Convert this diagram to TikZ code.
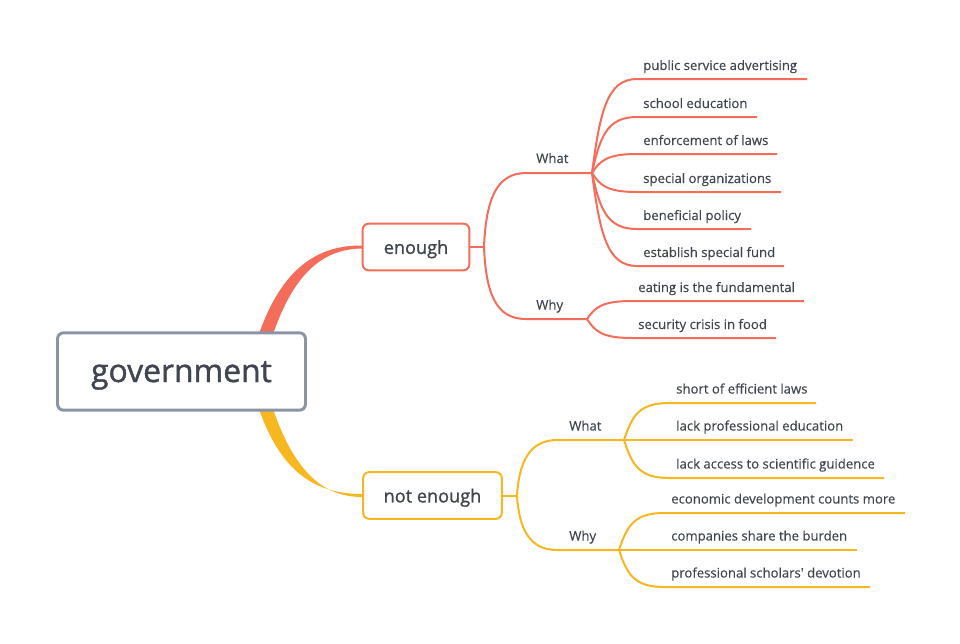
\documentclass[tikz,border=0pt]{standalone}
\usepackage{fontspec}
\setmainfont{Open Sans}
\newfontfamily\boxfont{Open Sans}[FakeBold=1.2]
\newfontfamily\kidfont{Open Sans}[FakeBold=0.35]
\definecolor{redc}{HTML}{F46D5A}
\definecolor{yelc}{HTML}{F6B720}
\definecolor{grayb}{HTML}{8A94A4}
\definecolor{txt}{HTML}{40464F}
\begin{document}
\begin{tikzpicture}[x=0.75pt,y=-0.75pt,
  kid/.style={anchor=base west,inner sep=0pt,text=txt,font=\kidfont\fontsize{9.85}{11}\selectfont},
  redline/.style={draw=redc,line width=1.5pt},
  yelline/.style={draw=yelc,line width=1.5pt},
  topbox/.style={draw=grayb,line width=2.2pt,rounded corners=4.5pt,fill=white,text=txt,text depth=0pt,
     minimum width=186pt,minimum height=58pt,font=\boxfont\fontsize{23.9}{28}\selectfont},
  subbox/.style={line width=1.5pt,rounded corners=4.5pt,fill=white,text=txt,text depth=0pt,
     minimum height=35pt,font=\boxfont\fontsize{13.6}{15}\selectfont}]
\useasboundingbox (0,0) rectangle (960,643);

% tapered main connectors
\fill[redc] (259,334) .. controls (282,268) and (318,245) .. (362,245.5)
   -- (362,248.5) .. controls (322,249) and (294,274) .. (273,334) -- cycle;
\fill[yelc] (259,409) .. controls (282,475) and (318,494) .. (362,494)
   -- (362,497) .. controls (322,497) and (294,470) .. (273,409) -- cycle;

\node[topbox] (gov) at (181.5,371.5) {government};
\node[subbox,draw=redc,minimum width=80pt] (en) at (416,247) {enough};
\node[subbox,draw=yelc,minimum width=104pt] (ne) at (432.5,495.5) {not enough};

% ---------- enough branch ----------
\coordinate (ej) at (484,247);
\draw[redline] (en.east) -- (ej);
\node[kid] (ewhat) at (536,163) {What};
\node[kid] (ewhy) at (536,309.5) {Why};
\coordinate (ewj) at (592,173);
\coordinate (eyj) at (587,319);
\draw[redline] (ej) .. controls (486,200) and (496,173) .. (526,173) -- (ewj);
\draw[redline] (ej) .. controls (486,294) and (496,319) .. (526,319) -- (eyj);

\foreach \y/\e/\t [count=\i] in {79/807/public service advertising,117/757/school education,154/777/enforcement of laws,192/781/special organizations,229/751/beneficial policy,266/784/establish special fund}{
  \node[kid] (ew\i) at (643,\y-9) {\t};
  \coordinate (ewe\i) at (\e,\y);
  \draw[redline] (ewj) .. controls (600,\y+0.35*173-0.35*\y) and (607,\y) .. (637,\y) -- (ewe\i);
}
\foreach \y/\e/\t [count=\i] in {301/804/eating is the fundamental,338/776/security crisis in food}{
  \node[kid] (ey\i) at (638,\y-9) {\t};
  \coordinate (eye\i) at (\e,\y);
  \draw[redline] (eyj) .. controls (595,\y+0.35*319-0.35*\y) and (602,\y) .. (632,\y) -- (eye\i);
}

% ---------- not enough branch ----------
\coordinate (nj) at (517,495.5);
\draw[yelline] (ne.east) -- (nj);
\node[kid] (nwhat) at (569,430.5) {What};
\node[kid] (nwhy) at (569,540.5) {Why};
\coordinate (nwj) at (624,440);
\coordinate (nyj) at (619,550);
\draw[yelline] (nj) .. controls (519,463) and (529,440) .. (557,440) -- (nwj);
\draw[yelline] (nj) .. controls (519,528) and (529,550) .. (557,550) -- (nyj);

\foreach \y/\e/\t [count=\i] in {403/816/short of efficient laws,440/853/lack professional education,478/884/lack access to scientific guidence}{
  \node[kid] (nw\i) at (676,\y-9.5) {\t};
  \coordinate (nwe\i) at (\e,\y);
  \draw[yelline] (nwj) .. controls (632,\y+0.35*440-0.35*\y) and (639,\y) .. (669,\y) -- (nwe\i);
}
\foreach \y/\e/\t [count=\i] in {513/905/economic development counts more,550/857/companies share the burden,587/870/professional scholars\textquotesingle\ devotion}{
  \node[kid] (ny\i) at (671,\y-9.5) {\t};
  \coordinate (nye\i) at (\e,\y);
  \draw[yelline] (nyj) .. controls (627,\y+0.35*550-0.35*\y) and (634,\y) .. (664,\y) -- (nye\i);
}
\end{tikzpicture}
\end{document}
